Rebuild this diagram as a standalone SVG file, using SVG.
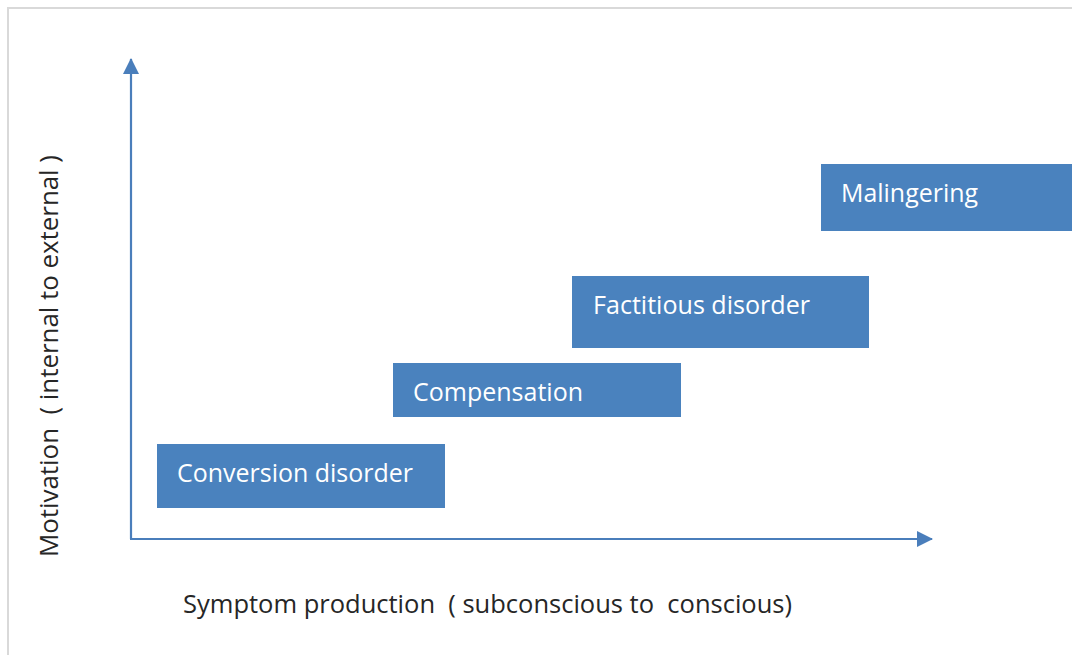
<svg xmlns="http://www.w3.org/2000/svg" width="1072" height="655" viewBox="0 0 1072 655">
  <style>
    .frame { stroke: #d9d9d9; stroke-width: 2; fill: none; }
    .axis { stroke: #4a7ebb; stroke-width: 2.2; fill: none; }
    .box { fill: #4a82be; }
    .boxtext { fill: #ffffff; font-family: "Open Sans", "Noto Sans", sans-serif; font-size: 26px; }
    .axistext { fill: #262626; font-family: "Open Sans", "Noto Sans", sans-serif; font-size: 26px; }
  </style>
  <defs>
    <marker id="arrow" markerUnits="userSpaceOnUse" markerWidth="16" markerHeight="16" viewBox="0 0 16 16" refX="15" refY="8" orient="auto">
      <path d="M0,0 L16,8 L0,16 Z" fill="#4a7ebb"/>
    </marker>
  </defs>
  <rect width="1072" height="655" fill="#ffffff"/>
  <path class="frame" d="M8,655 V8 H1072"/>

  <g id="connectors">
    <line class="axis" x1="131" y1="539" x2="131" y2="59" marker-end="url(#arrow)"/>
    <line class="axis" x1="130" y1="539" x2="932" y2="539" marker-end="url(#arrow)"/>
  </g>

  <g id="conversion">
    <rect class="box" x="157" y="444" width="288" height="64"/>
    <text class="boxtext" x="177" y="482" textLength="236" lengthAdjust="spacingAndGlyphs">Conversion disorder</text>
  </g>
  <g id="compensation">
    <rect class="box" x="393" y="363" width="288" height="54"/>
    <text class="boxtext" x="413" y="401" textLength="170" lengthAdjust="spacingAndGlyphs">Compensation</text>
  </g>
  <g id="factitious">
    <rect class="box" x="572" y="276" width="297" height="72"/>
    <text class="boxtext" x="593" y="314" textLength="217" lengthAdjust="spacingAndGlyphs">Factitious disorder</text>
  </g>
  <g id="malingering">
    <rect class="box" x="821" y="164" width="251" height="67"/>
    <text class="boxtext" x="841" y="202" textLength="137" lengthAdjust="spacingAndGlyphs">Malingering</text>
  </g>

  <g id="x-label">
    <text class="axistext" x="183" y="613" textLength="609" lengthAdjust="spacingAndGlyphs" xml:space="preserve">Symptom production  ( subconscious to  conscious)</text>
  </g>
  <g id="y-label">
    <text class="axistext" transform="translate(58,557) rotate(-90)" x="0" y="0" textLength="402" lengthAdjust="spacingAndGlyphs" xml:space="preserve">Motivation  ( internal to external )</text>
  </g>
</svg>
